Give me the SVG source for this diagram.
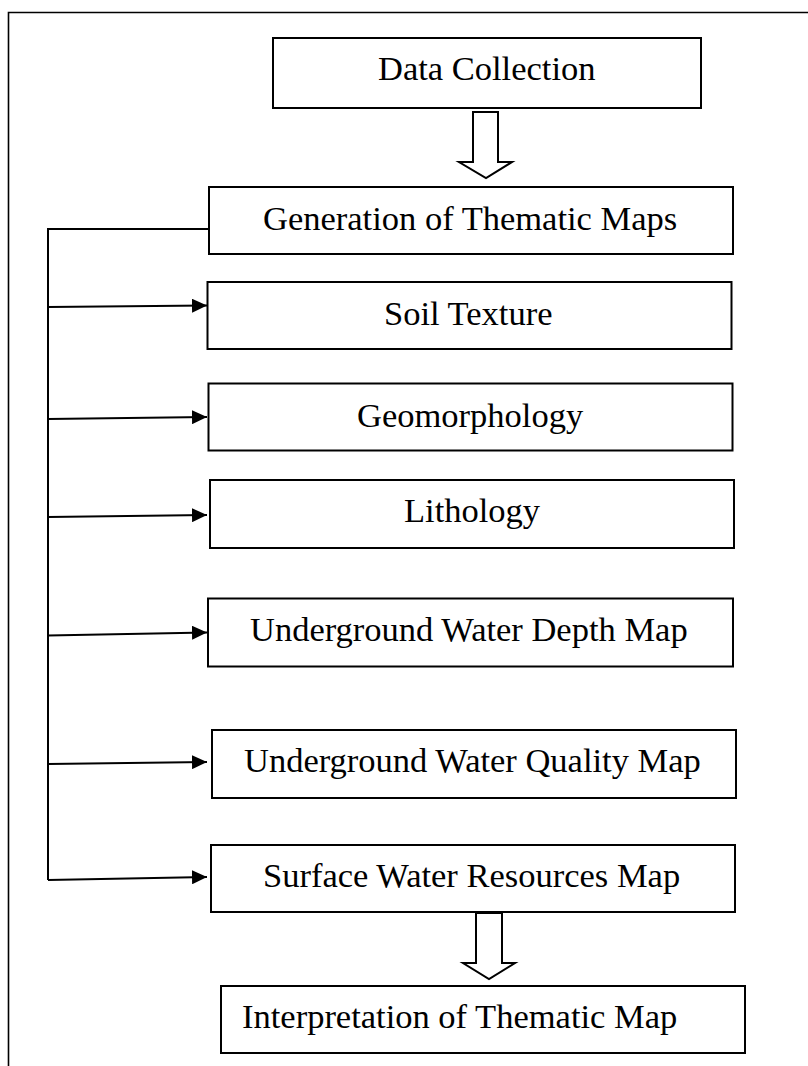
<svg xmlns="http://www.w3.org/2000/svg" width="808" height="1066" viewBox="0 0 808 1066">
<style>
.box{fill:#fff;stroke:#000;stroke-width:2}
.lbl{font-family:"Liberation Serif","Times New Roman",serif;font-size:34.5px;fill:#000}
.con{fill:none;stroke:#000;stroke-width:2}
.blk{fill:#fff;stroke:#000;stroke-width:2;stroke-linejoin:miter}
</style>
<defs>
<marker id="ah" markerUnits="userSpaceOnUse" markerWidth="16" markerHeight="14" refX="15" refY="7" orient="auto">
<path d="M0,0 L15,7 L0,14 z" fill="#000"/>
</marker>
</defs>
<rect width="808" height="1066" fill="#fff"/>
<polyline points="8.5,1066 8.5,12.5 808,12.5" fill="none" stroke="#000" stroke-width="1.6"/>
<g id="connectors">
<polyline class="con" points="209,229 48,229 48,880"/>
<line class="con" x1="48" y1="307" x2="207" y2="305.5" marker-end="url(#ah)"/>
<line class="con" x1="48" y1="419" x2="207" y2="417" marker-end="url(#ah)"/>
<line class="con" x1="48" y1="517" x2="207" y2="515" marker-end="url(#ah)"/>
<line class="con" x1="48" y1="635.5" x2="207" y2="632.5" marker-end="url(#ah)"/>
<line class="con" x1="48" y1="764" x2="207" y2="762" marker-end="url(#ah)"/>
<line class="con" x1="48" y1="880" x2="207" y2="877" marker-end="url(#ah)"/>
<polygon class="blk" points="473,112 498,112 498,162 512,162 486,178 459,162 473,162"/>
<polygon class="blk" points="476,913 502,913 502,963 515,963 489,979 463,963 476,963"/>
</g>
<g id="data-collection"><rect class="box" x="273" y="38" width="428" height="70"/><text class="lbl" x="378" y="80">Data Collection</text></g>
<g id="generation"><rect class="box" x="209" y="187" width="524" height="67"/><text class="lbl" x="263" y="230">Generation of Thematic Maps</text></g>
<g id="soil-texture"><rect class="box" x="207.5" y="282" width="524" height="67"/><text class="lbl" x="384" y="325">Soil Texture</text></g>
<g id="geomorphology"><rect class="box" x="208.5" y="383.5" width="524" height="67"/><text class="lbl" x="357" y="427">Geomorphology</text></g>
<g id="lithology"><rect class="box" x="210" y="480" width="524" height="68"/><text class="lbl" x="404" y="522">Lithology</text></g>
<g id="uw-depth"><rect class="box" x="208" y="598.5" width="525" height="68"/><text class="lbl" x="250" y="641">Underground Water Depth Map</text></g>
<g id="uw-quality"><rect class="box" x="212" y="730" width="524" height="68"/><text class="lbl" x="244" y="772">Underground Water Quality Map</text></g>
<g id="surface-water"><rect class="box" x="211" y="845" width="524" height="67"/><text class="lbl" x="263" y="887">Surface Water Resources Map</text></g>
<g id="interpretation"><rect class="box" x="221" y="986" width="524" height="67"/><text class="lbl" x="242" y="1028">Interpretation of Thematic Map</text></g>
</svg>
